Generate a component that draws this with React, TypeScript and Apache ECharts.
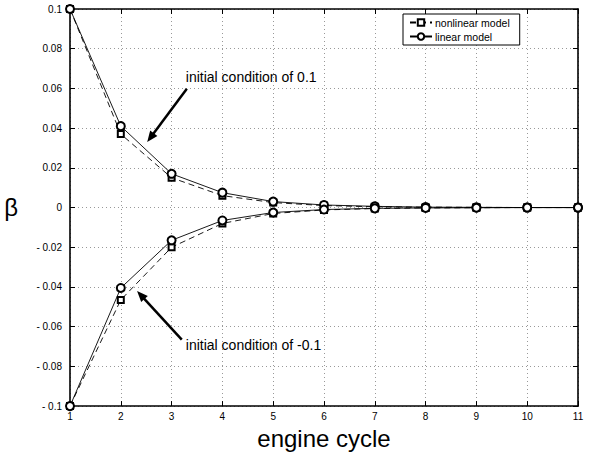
import React, { useEffect, useRef } from "react";
import * as echarts from "echarts";

const cycles = [1, 2, 3, 4, 5, 6, 7, 8, 9, 10, 11];
const upperNonlinear = [0.1, 0.037, 0.015, 0.006, 0.0025, 0.001, 0.0004, 0.0002, 0.0001, 0.0, 0.0];
const upperLinear = [0.1, 0.041, 0.017, 0.0075, 0.003, 0.0013, 0.0006, 0.0002, 0.0001, 0.0, 0.0];
const lowerNonlinear = [-0.1, -0.0465, -0.02, -0.008, -0.003, -0.0012, -0.0005, -0.0002, -0.0001, 0.0, 0.0];
const lowerLinear = [-0.1, -0.0405, -0.0165, -0.0065, -0.0025, -0.001, -0.0004, -0.0002, -0.0001, 0.0, 0.0];

const FONT = "'Liberation Sans', Arial, Helvetica, sans-serif";

const annotations = [
  { text: "initial condition of 0.1", textAt: [3.28, 0.066], tail: [3.3, 0.0598], tip: [2.52, 0.033] },
  { text: "initial condition of -0.1", textAt: [3.28, -0.069], tail: [3.2, -0.0665], tip: [2.32, -0.042] },
];

function fmtY(v: number): string {
  const r = Math.round(v * 100) / 100;
  if (r === 0) return "0";
  if (r < 0) return "- " + String(Math.abs(r));
  return String(r);
}

function pair(xs: number[], ys: number[]) {
  return xs.map((x, i) => [x, ys[i]]);
}

export default function App() {
  const ref = useRef<HTMLDivElement>(null);
  useEffect(() => {
    if (!ref.current) return;
    const chart = echarts.init(ref.current, null, { renderer: "svg" });
    const nonlinStyle = {
      type: "line" as const,
      name: "nonlinear model",
      symbol: "emptyRect",
      symbolSize: 6,
      lineStyle: { color: "#000", width: 0.9, type: [6, 4] as any },
      itemStyle: { color: "#000", borderColor: "#000", borderWidth: 0.8 },
    };
    const linStyle = {
      type: "line" as const,
      name: "linear model",
      symbol: "emptyCircle",
      symbolSize: 8,
      lineStyle: { color: "#000", width: 0.9, type: "solid" as const },
      itemStyle: { color: "#000", borderColor: "#000", borderWidth: 0.8 },
    };
    const axisCommon = {
      axisLine: { show: true, onZero: false, lineStyle: { color: "#000", width: 1.6 } },
      axisTick: { show: true, inside: true, length: 5, lineStyle: { color: "#000", width: 1 } },
    };
    chart.setOption({
      animation: false,
      backgroundColor: "#fff",
      grid: { left: 70, right: 18, top: 9, bottom: 43, containLabel: false },
      legend: {
        left: 403,
        top: 14,
        orient: "vertical",
        data: ["nonlinear model", "linear model"],
        backgroundColor: "#fff",
        borderColor: "#000",
        borderWidth: 1,
        borderRadius: 0,
        padding: [3, 10, 3, 6],
        itemGap: 3,
        itemWidth: 22,
        itemHeight: 8,
        textStyle: { fontFamily: FONT, fontSize: 10.5, color: "#000", padding: [0, 0, 0, -2] },
      },
      xAxis: [
        {
          type: "value",
          min: 1,
          max: 11,
          interval: 1,
          position: "bottom",
          ...axisCommon,
          axisLabel: { color: "#000", fontFamily: FONT, fontSize: 10, margin: 5 },
          splitLine: { show: true, lineStyle: { color: "#999", type: [1, 3], width: 1 } },
          name: "engine cycle",
          nameLocation: "middle",
          nameGap: 14,
          nameTextStyle: { fontFamily: FONT, fontSize: 24, color: "#000", verticalAlign: "top" },
        },
        {
          type: "value",
          min: 1,
          max: 11,
          interval: 1,
          position: "top",
          ...axisCommon,
          axisLabel: { show: false },
          splitLine: { show: false },
        },
      ],
      yAxis: [
        {
          type: "value",
          min: -0.1,
          max: 0.1,
          interval: 0.02,
          position: "left",
          ...axisCommon,
          axisLabel: { color: "#000", fontFamily: FONT, fontSize: 10, margin: 8, formatter: fmtY },
          splitLine: { show: true, lineStyle: { color: "#999", type: [1, 3], width: 1 } },
          name: "β",
          nameLocation: "middle",
          nameRotate: 0,
          nameGap: 52,
          nameTextStyle: { fontFamily: FONT, fontSize: 24, color: "#000" },
        },
        {
          type: "value",
          min: -0.1,
          max: 0.1,
          interval: 0.02,
          position: "right",
          ...axisCommon,
          axisLabel: { show: false },
          splitLine: { show: false },
        },
      ],
      series: [
        { ...nonlinStyle, data: pair(cycles, upperNonlinear) },
        { ...linStyle, data: pair(cycles, upperLinear) },
        { ...nonlinStyle, data: pair(cycles, lowerNonlinear) },
        { ...linStyle, data: pair(cycles, lowerLinear) },
      ],
    });

    const px = (p: number[]) => chart.convertToPixel({ gridIndex: 0 }, p) as number[];
    const elements: any[] = [];
    annotations.forEach((a) => {
      const t = px(a.textAt);
      const tail = px(a.tail);
      const tip = px(a.tip);
      const dx = tip[0] - tail[0];
      const dy = tip[1] - tail[1];
      const len = Math.sqrt(dx * dx + dy * dy);
      const ux = dx / len;
      const uy = dy / len;
      const headLen = 11;
      const headW = 4.5;
      const bx = tip[0] - ux * headLen;
      const by = tip[1] - uy * headLen;
      elements.push({
        type: "line",
        shape: { x1: tail[0], y1: tail[1], x2: bx + ux * 2, y2: by + uy * 2 },
        style: { stroke: "#000", lineWidth: 2.5 },
        z: 100,
      });
      elements.push({
        type: "polygon",
        shape: {
          points: [
            [tip[0], tip[1]],
            [bx - uy * headW, by + ux * headW],
            [bx + uy * headW, by - ux * headW],
          ],
        },
        style: { fill: "#000" },
        z: 100,
      });
      elements.push({
        type: "text",
        x: t[0],
        y: t[1],
        style: {
          text: a.text,
          fontFamily: FONT,
          fontSize: 14,
          fill: "#000",
          textVerticalAlign: "middle",
          verticalAlign: "middle",
        },
        z: 100,
      });
    });
    chart.setOption({ graphic: elements });

    return () => chart.dispose();
  }, []);
  return (
    <div
      ref={ref}
      style={{ position: "fixed", left: 0, top: 0, width: 596, height: 455 }}
    />
  );
}
